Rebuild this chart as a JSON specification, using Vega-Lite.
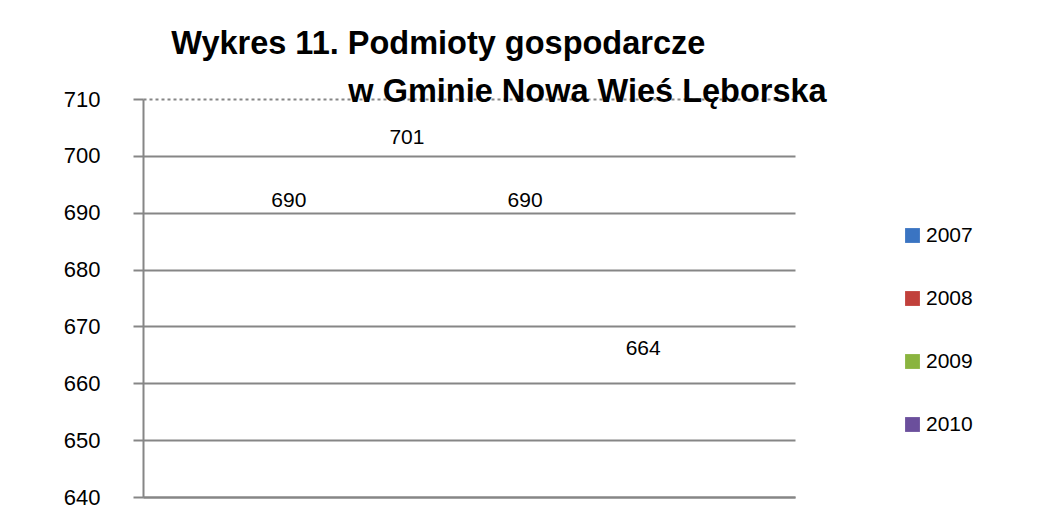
{
  "$schema": "https://vega.github.io/schema/vega-lite/v6.json",
  "width": 652,
  "height": 398,
  "autosize": {"type": "none"},
  "padding": {"left": 143, "top": 99, "right": 269, "bottom": 34},
  "background": "white",
  "title": {
    "text": ["Wykres 11. Podmioty gospodarcze", "\u2800\u2800\u2800\u2800\u2800\u2800\u2800\u00a0w Gminie Nowa Wieś Lęborska"],
    "anchor": "start",
    "dx": 108,
    "offset": -20,
    "font": "Liberation Sans",
    "fontSize": 32.5,
    "fontWeight": "bold",
    "color": "black",
    "lineHeight": 48
  },
  "data": {
    "values": [
      {"year": "2007", "value": 690},
      {"year": "2008", "value": 701},
      {"year": "2009", "value": 690},
      {"year": "2010", "value": 664}
    ]
  },
  "encoding": {
    "x": {
      "field": "year",
      "type": "nominal",
      "scale": {"paddingInner": 0.3, "paddingOuter": 0.91},
      "axis": {"title": null, "labels": false, "ticks": false, "domainColor": "#868686", "domainWidth": 2, "grid": false}
    },
    "y": {
      "field": "value",
      "type": "quantitative",
      "scale": {"domain": [640, 710], "zero": false, "nice": false},
      "axis": {
        "title": null,
        "values": [640, 650, 660, 670, 680, 690, 700, 710],
        "grid": true,
        "gridColor": "#868686",
        "gridWidth": 2,
        "gridOpacity": 1,
        "gridDash": {"condition": {"test": "datum.value === 710", "value": [3, 3]}, "value": []},
        "domainColor": "#868686",
        "domainWidth": 2,
        "tickColor": "#868686",
        "tickWidth": 2,
        "tickSize": 10,
        "labelPadding": 33,
        "labelFont": "Liberation Sans",
        "labelFontSize": 22,
        "labelColor": "black"
      }
    }
  },
  "layer": [
    {
      "mark": {"type": "bar", "opacity": 0},
      "encoding": {
        "color": {
          "field": "year",
          "type": "nominal",
          "scale": {"range": ["#3a74c2", "#c1403b", "#8ab43f", "#6b4f9c"]},
          "legend": {
            "title": null,
            "orient": "none",
            "legendX": 759,
            "legendY": 126,
            "symbolType": "square",
            "symbolSize": 220,
            "symbolOpacity": 1,
            "symbolStrokeWidth": 0,
            "rowPadding": 41,
            "labelFont": "Liberation Sans",
            "labelFontSize": 21,
            "labelColor": "black",
            "labelOffset": 3
          }
        }
      }
    },
    {
      "mark": {"type": "text", "baseline": "bottom", "dy": -2, "dx": -3, "font": "Liberation Sans", "fontSize": 21, "color": "black"},
      "encoding": {
        "text": {"field": "value", "type": "quantitative"}
      }
    }
  ],
  "config": {"view": {"stroke": null}}
}
